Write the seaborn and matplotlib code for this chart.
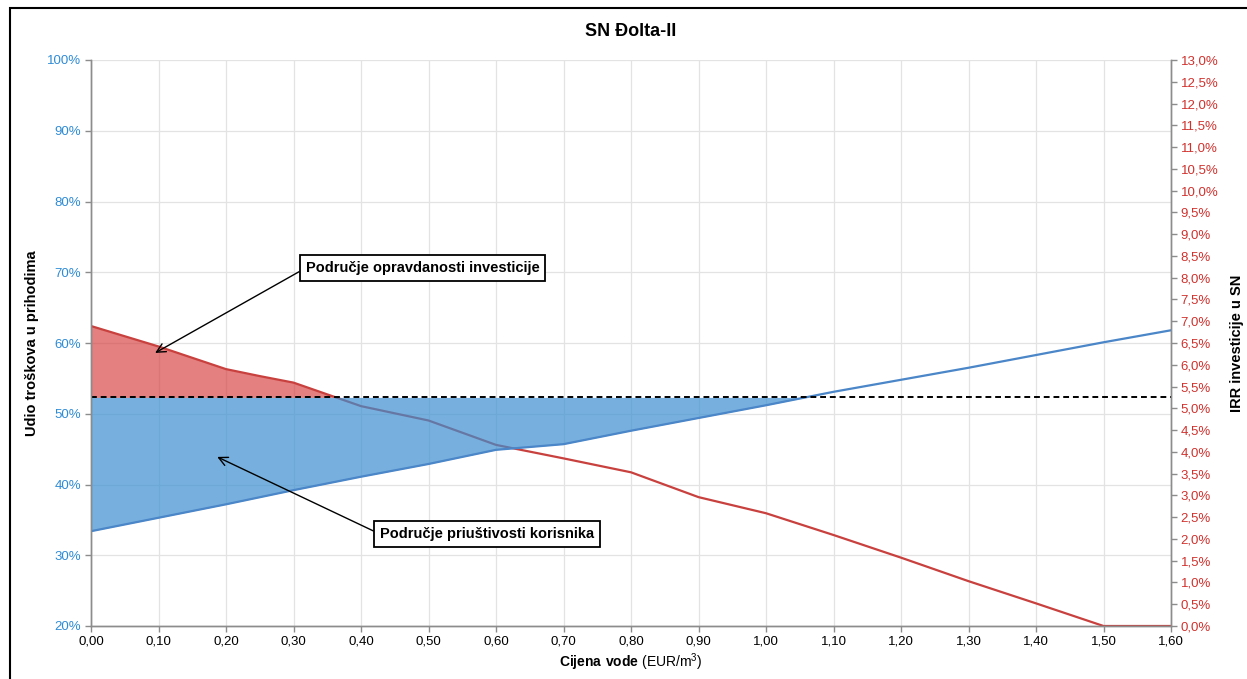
import numpy as np
import pandas as pd
import matplotlib
matplotlib.use("Agg")
import matplotlib.pyplot as plt
import matplotlib.patches as mpatches
import seaborn as sns

# ---- data ----
price = [0.00, 0.10, 0.20, 0.25, 0.30, 0.40, 0.50, 0.60, 0.70, 0.80, 0.90, 1.00, 1.10, 1.20, 1.30, 1.40, 1.50, 1.60]
cost_share = [33.4, 35.3, 37.2, 38.2, 39.2, 41.1, 42.9, 44.9, 45.7, 47.6, 49.4, 51.2, 53.1, 54.8, 56.5, 58.3, 60.1, 61.8]  # % (left axis)
irr = [6.89, 6.42, 5.90, 5.74, 5.59, 5.05, 4.72, 4.16, 3.85, 3.53, 2.96, 2.59, 2.09, 1.57, 1.03, 0.52, 0.00, 0.00]  # % (right axis)
irr_threshold = 5.25  # % (right axis)
title = "SN Đolta-II"
left_label = "Udio troškova u prihodima"
right_label = "IRR investicije u SN"
ann1 = "Područje opravdanosti investicije"
ann2 = "Područje priuštivosti korisnika"

left_lim = (20, 100)
right_lim = (0, 13)

sns.set_theme(style="white")
plt.rcParams["font.family"] = ["Liberation Sans", "DejaVu Sans"]
plt.rcParams["mathtext.fontset"] = "custom"
plt.rcParams["mathtext.rm"] = "Liberation Sans"
plt.rcParams["mathtext.bf"] = "Liberation Sans:bold"
plt.rcParams["text.color"] = "black"
plt.rcParams["axes.labelcolor"] = "black"
plt.rcParams["xtick.color"] = "black"

df = pd.DataFrame({"price": price, "cost": cost_share, "irr": irr})

fig = plt.figure(figsize=(12.47, 6.79), dpi=100)
ax = fig.add_axes([91/1247, 1-626/679, (1171-91)/1247, (626-60)/679])
ax2 = ax.twinx()
ax.set_zorder(ax2.get_zorder() + 1)
ax.patch.set_visible(False)
ax2.set_facecolor("white")

def r2l(v):
    return left_lim[0] + (np.asarray(v) - right_lim[0]) / (right_lim[1] - right_lim[0]) * (left_lim[1] - left_lim[0])

thr_left = float(r2l(irr_threshold))

BLUE = "#4A86C8"
RED = "#C8413E"

x = np.array(price)
irr_a = np.array(irr)
cost_a = np.array(cost_share)
ax2.fill_between(x, irr_a, irr_threshold, where=irr_a >= irr_threshold, interpolate=True,
                 color="#D63C3C", alpha=0.65, linewidth=0)
sns.lineplot(data=df, x="price", y="irr", ax=ax2, color=RED, linewidth=1.6)

ax.fill_between(x, cost_a, thr_left, where=cost_a <= thr_left, interpolate=True,
                color="#3D8FD1", alpha=0.7, linewidth=0)
sns.lineplot(data=df, x="price", y="cost", ax=ax, color=BLUE, linewidth=1.6)
ax.axhline(thr_left, color="black", linestyle=(0, (3, 2)), linewidth=1.4)

ax.set_xlim(0, 1.6)
ax.set_ylim(*left_lim)
ax2.set_ylim(*right_lim)
xt = np.round(np.arange(0, 1.61, 0.1), 2)
ax.set_xticks(xt)
ax.set_xticklabels([f"{v:.2f}".replace(".", ",") for v in xt], fontsize=9.5)
lt = np.arange(20, 101, 10)
ax.set_yticks(lt)
ax.set_yticklabels([f"{v}%" for v in lt], fontsize=9.5, color="#2E8BD6")
rt = np.arange(0, 13.01, 0.5)
ax2.set_yticks(rt)
ax2.set_yticklabels([f"{v:.1f}%".replace(".", ",") for v in rt], fontsize=9.5, color="#D0312D")

ax2.set_xticks(xt)
ax2.grid(False)
for v in xt:
    ax2.axvline(v, color="#E3E3E3", linewidth=0.9, zorder=0)
for v in lt:
    ax2.axhline((v - left_lim[0]) / (left_lim[1] - left_lim[0]) * (right_lim[1] - right_lim[0]), color="#E3E3E3", linewidth=0.9, zorder=0)
ax.grid(False)

for a in (ax, ax2):
    a.spines["top"].set_visible(False)
    for s in ("left", "right", "bottom"):
        a.spines[s].set_color("#8C8C8C")
        a.spines[s].set_linewidth(1.0)
ax.tick_params(axis="both", which="both", direction="out", length=4, color="#8C8C8C", width=1, pad=3)
ax.tick_params(axis="y", left=True)
ax.tick_params(axis="x", bottom=True)
ax2.tick_params(axis="y", right=True, direction="out", length=4, color="#8C8C8C", width=1, pad=3)

ax.set_xlabel(r"$\bf{Cijena\ vode}$ (EUR/m$^3$)", fontsize=10, labelpad=3)
ax.set_ylabel(left_label, fontsize=10.5, fontweight="bold", labelpad=6)
ax2.set_ylabel(right_label, fontsize=10.5, fontweight="bold", labelpad=8)
ax.set_title(title, fontsize=13, fontweight="bold", pad=17)

bbox = dict(boxstyle="square,pad=0.4", fc="white", ec="black", lw=1.3)
arrow = dict(arrowstyle="->", color="black", lw=1.0, mutation_scale=16, shrinkA=0, shrinkB=0, relpos=(0, 0.5))
ax.annotate(ann1, xy=(0.095, 58.6), xytext=(0.318, 70.6), fontsize=10.5, fontweight="bold",
            ha="left", va="center", bbox=bbox, arrowprops=arrow)
ax.annotate(ann2, xy=(0.187, 43.9), xytext=(0.428, 33.0), fontsize=10.5, fontweight="bold",
            ha="left", va="center", bbox=bbox, arrowprops=arrow)

fig.patches.append(mpatches.Rectangle((10/1247, -0.05), 1.2, 1 - 8/679 + 0.05, transform=fig.transFigure,
                                      fill=False, ec="black", lw=1.5))

fig.savefig("out.png", dpi=100)
